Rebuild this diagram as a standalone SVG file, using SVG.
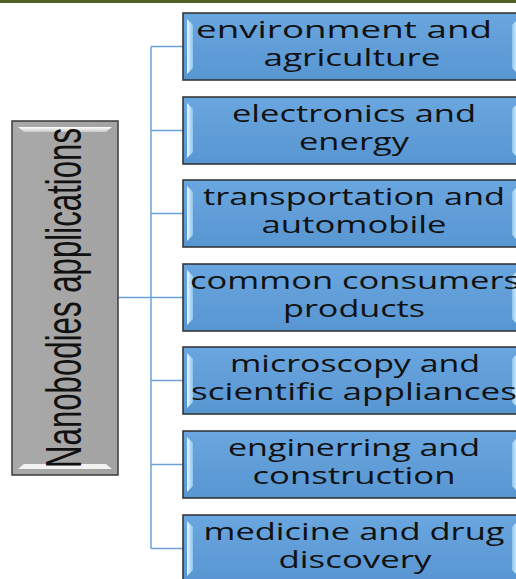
<svg xmlns="http://www.w3.org/2000/svg" width="516" height="579" viewBox="0 0 516 579">
<defs>
<linearGradient id="bfill" x1="0" y1="0" x2="0" y2="1">
<stop offset="0" stop-color="#6aa6df"/>
<stop offset="1" stop-color="#5896d2"/>
</linearGradient>
<linearGradient id="bev" x1="0" y1="0" x2="1" y2="0">
<stop offset="0" stop-color="#e8f8ff"/>
<stop offset="1" stop-color="#8cc4ee"/>
</linearGradient>
<linearGradient id="bevr" x1="0" y1="0" x2="1" y2="0">
<stop offset="0" stop-color="#8cc4ee"/>
<stop offset="1" stop-color="#e8f8ff"/>
</linearGradient>
<linearGradient id="gfill" x1="0" y1="0" x2="1" y2="0">
<stop offset="0" stop-color="#a9a9a9"/>
<stop offset="1" stop-color="#a3a3a3"/>
</linearGradient>
<linearGradient id="gbev" x1="0" y1="0" x2="0" y2="1">
<stop offset="0" stop-color="#ffffff"/>
<stop offset="1" stop-color="#c8c8c8"/>
</linearGradient>
</defs>
<style>
.box{fill:url(#bfill);stroke:#2e2e2e;stroke-width:1.5}
.bl{fill:url(#bev)}
.br{fill:url(#bevr)}
.t{font-family:"Open Sans","DejaVu Sans",sans-serif;font-size:24px;font-weight:500;fill:#111;text-anchor:middle}
.conn{stroke:#6aa3da;stroke-width:1.5;fill:none}
</style>
<rect x="0" y="0" width="516" height="3" fill="#4f6228"/>
<g id="connectors">
<line class="conn" x1="151" y1="46.5" x2="151" y2="548.5"/>
<line class="conn" x1="118" y1="297.5" x2="151" y2="297.5"/>
<line class="conn" x1="151" y1="46.5" x2="183" y2="46.5"/>
<line class="conn" x1="151" y1="130.5" x2="183" y2="130.5"/>
<line class="conn" x1="151" y1="213.5" x2="183" y2="213.5"/>
<line class="conn" x1="151" y1="297.5" x2="183" y2="297.5"/>
<line class="conn" x1="151" y1="380.5" x2="183" y2="380.5"/>
<line class="conn" x1="151" y1="464.5" x2="183" y2="464.5"/>
<line class="conn" x1="151" y1="548.5" x2="183" y2="548.5"/>
</g>
<g id="root">
<rect x="12" y="121" width="106" height="354" fill="url(#gfill)" stroke="#3a3a3a" stroke-width="1.5"/>
<path d="M18,127 L112,127 L106,132 L24,132 Z" fill="url(#gbev)"/>
<path d="M24,464 L106,464 L112,469 L18,469 Z" fill="#f2f2f2"/>
<text transform="translate(81,298) rotate(-90)" font-family="'Liberation Sans',sans-serif" font-size="50" fill="#111" text-anchor="middle" textLength="340" lengthAdjust="spacingAndGlyphs">Nanobodies applications</text>
</g>
<g id="n1">
<rect class="box" x="183" y="13" width="335" height="67"/>
<path class="bl" d="M187,19 L193,25 L193,68 L187,74 Z"/>
<path class="br" d="M518,19 L512,25 L512,68 L518,74 Z"/>
<text class="t" x="344" y="38" textLength="296" lengthAdjust="spacingAndGlyphs">environment and</text>
<text class="t" x="352" y="66" textLength="177" lengthAdjust="spacingAndGlyphs">agriculture</text>
</g>
<g id="n2">
<rect class="box" x="183" y="97" width="335" height="67"/>
<path class="bl" d="M187,103 L193,109 L193,152 L187,158 Z"/>
<path class="br" d="M518,103 L512,109 L512,152 L518,158 Z"/>
<text class="t" x="354" y="122" textLength="244" lengthAdjust="spacingAndGlyphs">electronics and</text>
<text class="t" x="354" y="150" textLength="110" lengthAdjust="spacingAndGlyphs">energy</text>
</g>
<g id="n3">
<rect class="box" x="183" y="180" width="335" height="67"/>
<path class="bl" d="M187,186 L193,192 L193,235 L187,241 Z"/>
<path class="br" d="M518,186 L512,192 L512,235 L518,241 Z"/>
<text class="t" x="354" y="205" textLength="302" lengthAdjust="spacingAndGlyphs">transportation and</text>
<text class="t" x="354" y="233" textLength="185" lengthAdjust="spacingAndGlyphs">automobile</text>
</g>
<g id="n4">
<rect class="box" x="183" y="264" width="335" height="67"/>
<path class="bl" d="M187,270 L193,276 L193,319 L187,325 Z"/>
<path class="br" d="M518,270 L512,276 L512,319 L518,325 Z"/>
<text class="t" x="355" y="289" textLength="330" lengthAdjust="spacingAndGlyphs">common consumers</text>
<text class="t" x="354" y="317" textLength="142" lengthAdjust="spacingAndGlyphs">products</text>
</g>
<g id="n5">
<rect class="box" x="183" y="347" width="335" height="67"/>
<path class="bl" d="M187,353 L193,359 L193,402 L187,408 Z"/>
<path class="br" d="M518,353 L512,359 L512,402 L518,408 Z"/>
<text class="t" x="355" y="372" textLength="250" lengthAdjust="spacingAndGlyphs">microscopy and</text>
<text class="t" x="354" y="400" textLength="326" lengthAdjust="spacingAndGlyphs">scientific appliances</text>
</g>
<g id="n6">
<rect class="box" x="183" y="431" width="335" height="67"/>
<path class="bl" d="M187,437 L193,443 L193,486 L187,492 Z"/>
<path class="br" d="M518,437 L512,443 L512,486 L518,492 Z"/>
<text class="t" x="354" y="456" textLength="252" lengthAdjust="spacingAndGlyphs">enginerring and</text>
<text class="t" x="354" y="484" textLength="203" lengthAdjust="spacingAndGlyphs">construction</text>
</g>
<g id="n7">
<rect class="box" x="183" y="515" width="335" height="67"/>
<path class="bl" d="M187,521 L193,527 L193,570 L187,576 Z"/>
<path class="br" d="M518,521 L512,527 L512,570 L518,576 Z"/>
<text class="t" x="354" y="540" textLength="301" lengthAdjust="spacingAndGlyphs">medicine and drug</text>
<text class="t" x="355" y="568" textLength="153" lengthAdjust="spacingAndGlyphs">discovery</text>
</g>
</svg>
